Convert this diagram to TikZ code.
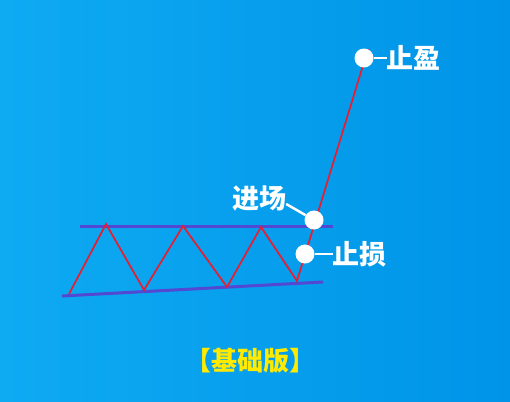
\documentclass[tikz,border=0pt]{standalone}
\usepackage{fontspec}
\usepackage{tikz}
\usetikzlibrary{positioning, calc}
\newfontfamily\cjk{Noto Sans CJK SC}
\definecolor{bgleft}{RGB}{14,170,242}
\definecolor{bgright}{RGB}{0,148,232}
\definecolor{chanblue}{RGB}{82,72,210}
\definecolor{pricered}{RGB}{232,30,48}
\definecolor{titleyellow}{RGB}{255,234,0}
\tikzset{
  chanline/.style={line width=3pt, color=chanblue},
  priceline/.style={line width=1.7pt, color=pricered},
  pointdot/.style={circle, fill=white, minimum size=19pt, inner sep=0pt},
  lead/.style={line width=2.5pt, color=white},
  tagtext/.style={font=\cjk\bfseries\fontsize{27}{27}\selectfont,
    text=white, inner sep=0pt},
  titletext/.style={font=\cjk\bfseries\fontsize{26}{26}\selectfont,
    text=titleyellow, inner sep=0pt}
}
\begin{document}
\begin{tikzpicture}[x=1pt, y=-1pt]
  % Background
  \shade[left color=bgleft, right color=bgright] (0,0) rectangle (510,401);
  \useasboundingbox (0,0) rectangle (510,401);
  % Channel lines
  \coordinate (upL) at (80,226);
  \coordinate (upR) at (333,226);
  \coordinate (loL) at (62,296);
  \coordinate (loR) at (323,282);
  \draw[chanline] (upL) -- (upR);
  \draw[chanline] (loL) -- (loR);
  % Price path
  \coordinate (p0) at (69,294);
  \coordinate (p1) at (106,224);
  \coordinate (p2) at (144,290);
  \coordinate (p3) at (183,226);
  \coordinate (p4) at (227,287);
  \coordinate (p5) at (261,227);
  \coordinate (p6) at (297,281);
  \coordinate (p7) at (368,49);
  \draw[priceline] (p0) -- (p1) -- (p2) -- (p3) -- (p4) -- (p5) -- (p6) -- (p7);
  % Key points
  \node[pointdot] (entry)  at (314,220) {};
  \node[pointdot] (stop)   at (305,254) {};
  \node[pointdot] (target) at (364,58)  {};
  % Labels
  \node[tagtext, right=13pt of target] (targetlbl) {止盈};
  \node[tagtext, right=18pt of stop] (stoplbl) {止损};
  \node[tagtext] (entrylbl) at (259,199) {进场};
  \draw[lead] (target.east) -- (targetlbl.west);
  \draw[lead] (stop.east) -- (stoplbl.west);
  \draw[lead] ([yshift=-5pt]entrylbl.east) -- (entry);
  % Title
  \node[titletext] (ttl) at (250,361) {【基础版】};
\end{tikzpicture}
\end{document}
